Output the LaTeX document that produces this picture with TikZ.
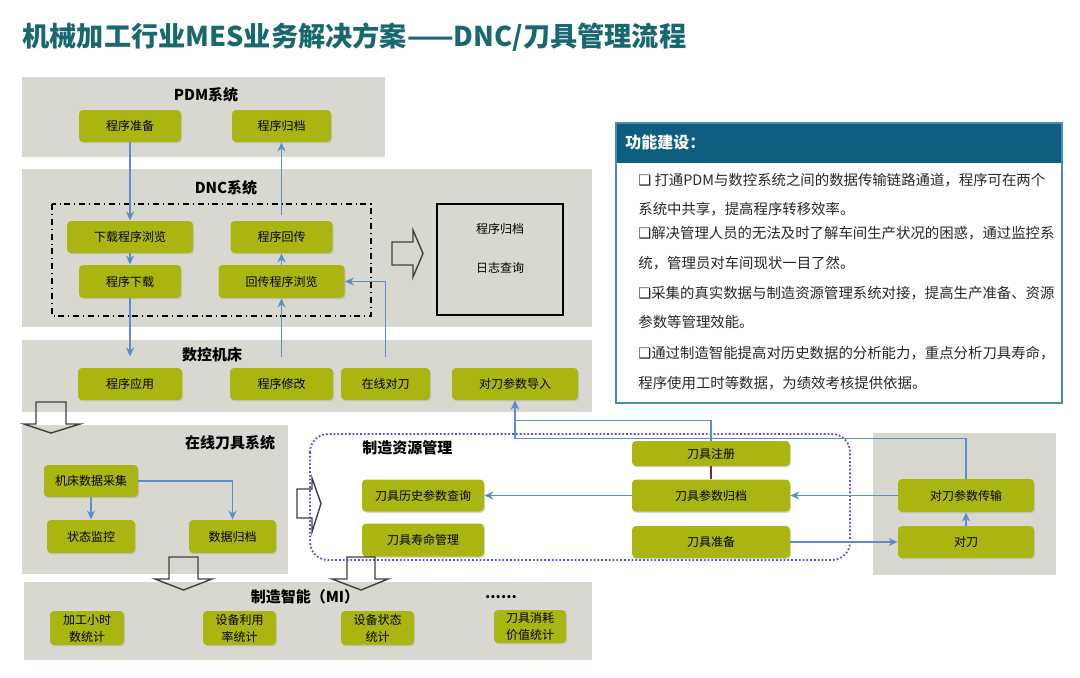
\documentclass[tikz,border=0pt]{standalone}
\usepackage{fontspec}
\setmainfont{Noto Sans CJK SC}
\newfontfamily\symfont{DejaVu Sans}
\usetikzlibrary{shapes,arrows.meta,positioning,calc,shadows}
\definecolor{panelgray}{RGB}{216,216,208}
\definecolor{boxgreen}{RGB}{170,181,18}
\definecolor{flowblue}{RGB}{91,143,204}
\definecolor{titleteal}{RGB}{24,104,112}
\definecolor{headblue}{RGB}{14,94,128}
\definecolor{frameblue}{RGB}{70,140,180}
\definecolor{dotblue}{RGB}{80,80,240}
\definecolor{linkred}{RGB}{140,30,60}

\begin{document}
\begin{tikzpicture}[
    x=0.5pt, y=-0.5pt,
    box/.style={rectangle, rounded corners=2pt, fill=boxgreen, inner sep=1pt, align=center, font=\fontsize{6}{8.5}\selectfont, drop shadow={shadow xshift=0.5pt, shadow yshift=-0.7pt, fill=black!30}},
    paneltitle/.style={font=\fontsize{7.5}{9}\selectfont\bfseries, inner sep=0pt},
    plain/.style={font=\fontsize{6}{7}\selectfont, inner sep=0pt},
    bodyline/.style={anchor=west, inner sep=0pt, text=black!85, font=\fontsize{7.2}{9}\selectfont},
    flow/.style={draw=flowblue, line width=0.8pt, -{Stealth[length=4.5pt, width=4pt]}},
    openarrow/.style={draw=black!75, line width=0.7pt},
]
    \useasboundingbox (0,0) rectangle (1080,677);

    % ============ Title ============
    \node[anchor=west, text=titleteal, font=\fontsize{13.6}{16}\selectfont\bfseries, inner sep=0pt] (title) at (22,37) {机械加工行业MES业务解决方案——DNC/刀具管理流程};

    % ============ PDM ============
    \fill[panelgray] (22,77) rectangle (385,157);
    \node[paneltitle] (pdmtitle) at (206,95) {PDM系统};
    \node[box, minimum width=51pt, minimum height=16pt] (prep) at (130,126) {程序准备};
    \node[box, minimum width=49.5pt, minimum height=16pt] (parch) at (281.5,126) {程序归档};

    % ============ DNC ============
    \fill[panelgray] (22,169) rectangle (592,327);
    \node[paneltitle] (dnctitle) at (226,188) {DNC系统};
    \draw[dash dot, line width=0.6pt] (52,204) rectangle (371,316);
    \node[box, minimum width=63pt, minimum height=16pt] (dlview) at (130,237) {下载程序浏览};
    \node[box, minimum width=51pt, minimum height=16.5pt] (dload) at (130,281.5) {程序下载};
    \node[box, minimum width=51pt, minimum height=16pt] (upload) at (281.5,237) {程序回传};
    \node[box, minimum width=63pt, minimum height=16.5pt] (upview) at (281.5,281.5) {回传程序浏览};
    \draw[openarrow] (392,242) -- (413,242) -- (413,230) -- (423,253.5) -- (413,277) -- (413,265) -- (392,265) -- cycle;
    \node[draw, line width=0.6pt, minimum width=63pt, minimum height=55.5pt] (logbox) at (500,259.5) {};
    \node[plain] (logtxt1) at (500,229) {程序归档};
    \node[plain] (logtxt2) at (500,268) {日志查询};

    % ============ CNC machine ============
    \fill[panelgray] (22,340) rectangle (592,412);
    \node[paneltitle] (cnctitle) at (212,355) {数控机床};
    \node[box, minimum width=52pt, minimum height=16pt] (apply) at (130,384) {程序应用};
    \node[box, minimum width=51.5pt, minimum height=16pt] (modify) at (281.5,384) {程序修改};
    \node[box, minimum width=44.5pt, minimum height=16pt] (online) at (385.5,384) {在线对刀};
    \node[box, minimum width=63pt, minimum height=16pt] (import) at (515,384) {对刀参数导入};

    % ============ Online tool system ============
    \fill[panelgray] (22,425) rectangle (288,574);
    \draw[openarrow] (36,402) -- (66,402) -- (66,424) -- (80,424) -- (51,433) -- (24,424) -- (36,424) -- cycle;
    \node[paneltitle] (tooltitle) at (230,443) {在线刀具系统};
    \node[box, minimum width=47pt, minimum height=16pt] (collect) at (91,481) {机床数据采集};
    \node[box, minimum width=44pt, minimum height=16.5pt] (monitor) at (91,536.5) {状态监控};
    \node[box, minimum width=43.5pt, minimum height=16.5pt] (darch) at (232.5,536.5) {数据归档};

    % ============ Resource management ============
    \draw[dotblue, densely dotted, line width=0.9pt, rounded corners=9pt] (310,434) rectangle (850,560);
    \draw[openarrow] (297,489) -- (312,489) -- (312,478) -- (321,503.5) -- (312,532) -- (312,518) -- (297,518) -- cycle;
    \node[paneltitle, anchor=west] (restitle) at (362,448) {制造资源管理};
    \node[box, minimum width=79pt, minimum height=12.5pt] (treg) at (711,453.5) {刀具注册};
    \node[box, minimum width=79pt, minimum height=16pt] (tparch) at (711,495.5) {刀具参数归档};
    \node[box, minimum width=79pt, minimum height=16pt] (tprep) at (711,542) {刀具准备};
    \node[box, minimum width=61pt, minimum height=16pt] (thist) at (423,495.5) {刀具历史参数查询};
    \node[box, minimum width=61pt, minimum height=16.5pt] (tlife) at (423,540) {刀具寿命管理};

    % ============ Tool setting ============
    \fill[panelgray] (873,433) rectangle (1056,575);
    \node[box, minimum width=68pt, minimum height=16.5pt] (ttrans) at (966,495.5) {对刀参数传输};
    \node[box, minimum width=68pt, minimum height=16pt] (tset) at (966,542) {对刀};

    % ============ Manufacturing intelligence ============
    \fill[panelgray] (24,582) rectangle (592,660);
    \draw[openarrow] (169,557) -- (198,557) -- (198,579) -- (212,579) -- (183.5,590) -- (155,579) -- (169,579) -- cycle;
    \draw[openarrow] (347,557) -- (375,557) -- (375,579) -- (388,579) -- (361,590) -- (332,579) -- (347,579) -- cycle;
    \node[paneltitle] (mititle) at (305,597) {制造智能（MI）};
    \node[paneltitle] (midots) at (501,597) {......};
    \node[box, minimum width=37pt, minimum height=17pt] (mi1) at (87,628) {加工小时\\数统计};
    \node[box, minimum width=36.5pt, minimum height=17pt] (mi2) at (239.5,628) {设备利用\\率统计};
    \node[box, minimum width=36.5pt, minimum height=17pt] (mi3) at (377.5,628) {设备状态\\统计};
    \node[box, minimum width=36pt, minimum height=16.5pt] (mi4) at (530,626.5) {刀具消耗\\价值统计};

    % ============ Function panel ============
    \fill[headblue] (616,123) rectangle (1062,163);
    \draw[frameblue, line width=0.6pt] (616,123) rectangle (1062,403);
    \node[anchor=west, text=white, font=\fontsize{8}{9}\selectfont\bfseries, inner sep=0pt] (functitle) at (625,142) {功能建设：};
    \foreach \y/\t [count=\i] in {
        180/{{\symfont ❑} 打通PDM与数控系统之间的数据传输链路通道，程序可在两个},
        209/{系统中共享，提高程序转移效率。},
        233/{{\symfont ❑}解决管理人员的无法及时了解车间生产状况的困惑，通过监控系},
        263/{统，管理员对车间现状一目了然。},
        293/{{\symfont ❑}采集的真实数据与制造资源管理系统对接，提高生产准备、资源},
        322/{参数等管理效能。},
        353/{{\symfont ❑}通过制造智能提高对历史数据的分析能力，重点分析刀具寿命，},
        383/{程序使用工时等数据，为绩效考核提供依据。}}
        \node[bodyline] (line\i) at (638,\y) {\t};

    % ============ Connections ============
    % DNC program flow
    \draw[flow] (prep.south) -- (dlview.north);
    \draw[flow] (dlview.south) -- (dload.north);
    \draw[flow, shorten >=5.5pt] (dload.south) -- (apply.north);
    \draw[flow, shorten <=5.5pt] (modify.north) -- (upview.south);
    \draw[flow, shorten <=5.5pt] (online.north) |- (upview.east);
    \draw[flow] (upview.north) -- (upload.south);
    \draw[flow, shorten <=3pt] (upload.north) -- (parch.south);

    % online tool data
    \draw[flow] (collect.south) -- (monitor.north);
    \draw[flow] (collect.east) -| (darch.north);

    % tool resources
    \draw[linkred, line width=0.6pt] (treg.south) -- (tparch.north);
    \draw[flow] (tparch.west) -- (thist.east);
    \draw[flow] (ttrans.west) -- (tparch.east);
    \draw[flow] (tprep.east) -- (tset.west);
    \draw[flow] (tset.north) -- (ttrans.south);
    \draw[flow] (treg.north) -- ++(0,-20) -| (import.south);
    \draw[flow] (ttrans.north) -- ++(0,-40) -| (import.south);

\end{tikzpicture}
\end{document}
